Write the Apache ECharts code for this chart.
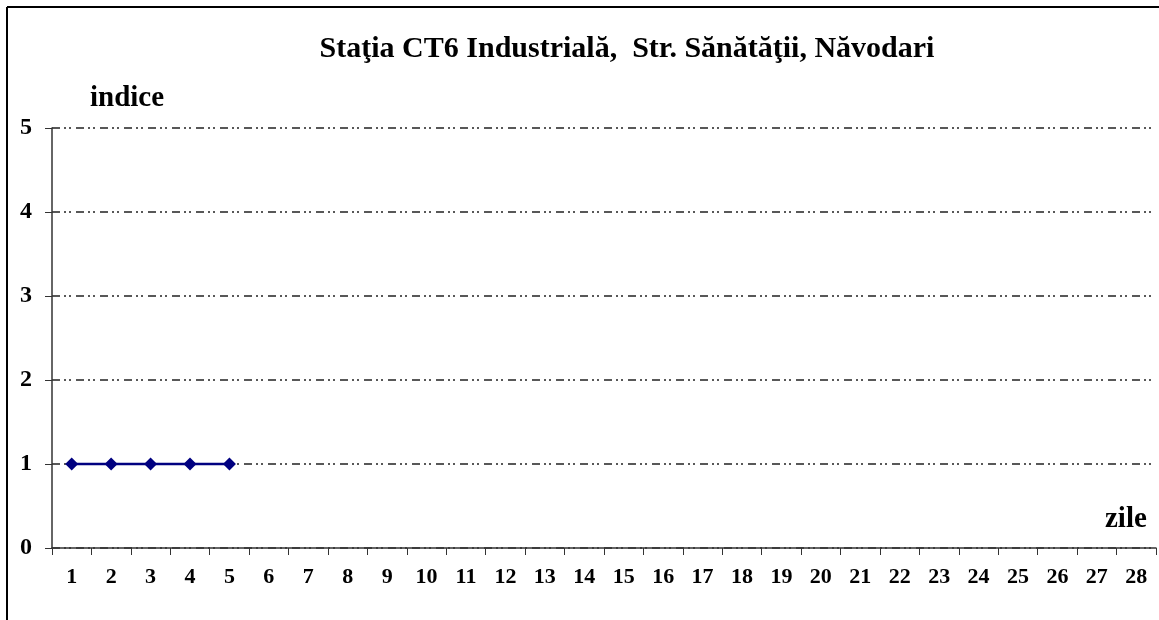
<!DOCTYPE html>
<html>
<head>
  <meta charset="utf-8">
  <script src="https://cdn.jsdelivr.net/npm/echarts@6/dist/echarts.min.js"></script>
  <style>
    body { margin: 0; background: #fff; }
    #main { width: 1159px; height: 620px; }
  </style>
</head>
<body>
  <div id="main"></div>
  <script type="text/javascript">
    // zilele lunii
    var zile = [];
    for (var i = 1; i <= 28; i++) zile.push(String(i));
    // indicele pe zile (doar primele 5 zile au valori)
    var indice = [1, 1, 1, 1, 1];
    var yTicks = [0, 1, 2, 3, 4, 5];

    var serif = '"Liberation Serif", "Times New Roman", serif';
    var myChart = echarts.init(document.getElementById('main'));

    var option = {
      backgroundColor: '#fff',
      animation: false,
      title: {
        text: 'Staţia CT6 Industrială,  Str. Sănătăţii, Năvodari',
        left: 622,
        textAlign: 'center',
        top: 29,
        textStyle: { fontFamily: serif, fontWeight: 'bold', fontSize: 30, color: '#000' }
      },
      grid: { left: 52, right: 3, top: 128, bottom: 72 },
      xAxis: {
        type: 'category',
        data: zile,
        boundaryGap: true,
        axisLine: { lineStyle: { color: '#333', width: 1.5 } },
        axisTick: { show: true, length: 7, lineStyle: { color: '#333' } },
        axisLabel: { margin: 18, fontFamily: serif, fontWeight: 'bold', fontSize: 22, color: '#000' },
        splitLine: { show: false }
      },
      yAxis: {
        type: 'value',
        min: yTicks[0],
        max: yTicks[yTicks.length - 1],
        interval: 1,
        axisLine: { show: true, lineStyle: { color: '#333', width: 1.5 } },
        axisTick: { show: true, length: 7, lineStyle: { color: '#333' } },
        axisLabel: { margin: 20, fontFamily: serif, fontWeight: 'bold', fontSize: 24, color: '#000' },
        splitLine: {
          show: true,
          lineStyle: { color: '#222', width: 1.5, type: [8, 4, 2, 3, 2, 5] }
        }
      },
      graphic: [
        { type: 'line', shape: { x1: 7, y1: 7, x2: 1159, y2: 7 }, style: { stroke: '#000', lineWidth: 2 } },
        { type: 'line', shape: { x1: 7, y1: 7, x2: 7, y2: 620 }, style: { stroke: '#000', lineWidth: 2 } },
        {
          type: 'text', left: 90, top: 84,
          style: { text: 'indice', font: 'bold 29px ' + serif, fill: '#000' }
        },
        {
          type: 'text', left: 1105, top: 505,
          style: { text: 'zile', font: 'bold 29px ' + serif, fill: '#000' }
        }
      ],
      series: [{
        name: 'indice',
        type: 'line',
        data: indice,
        symbol: 'diamond',
        symbolSize: 13,
        itemStyle: { color: '#000080' },
        lineStyle: { color: '#000080', width: 2.5 }
      }]
    };
    myChart.setOption(option);
  </script>
</body>
</html>
